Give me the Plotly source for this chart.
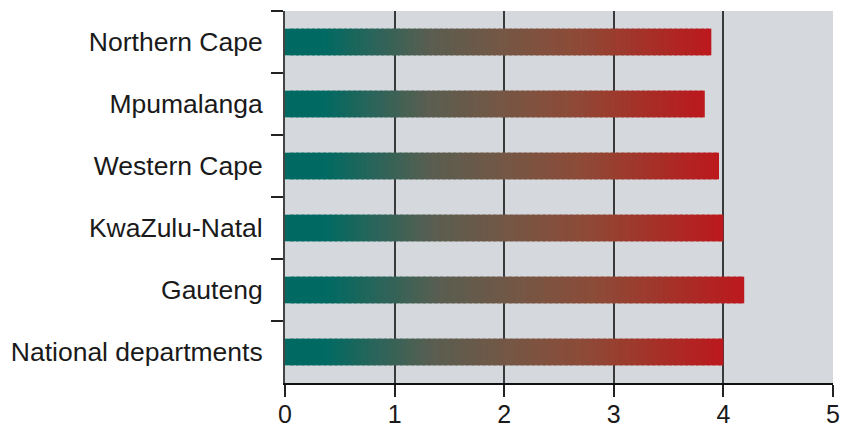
import numpy as np
import plotly.graph_objects as go

# Categories listed top to bottom, with their scores
categories = ["Northern Cape", "Mpumalanga", "Western Cape", "KwaZulu-Natal",
              "Gauteng", "National departments"]
values = [3.89, 3.83, 3.96, 4.00, 4.19, 4.00]
x_ticks = [0, 1, 2, 3, 4, 5]

# Colour ramp along each bar: teal -> olive grey -> brown -> red
stop_pos = [0.0, 0.09, 0.34, 0.52, 0.69, 1.0]
stop_rgb = np.array([
    [0, 106, 98],
    [0, 106, 98],
    [90, 94, 80],
    [118, 86, 68],
    [142, 74, 54],
    [188, 24, 28],
])

N_SEG = 80


def ramp(t):
    return [float(np.interp(t, stop_pos, stop_rgb[:, k])) for k in range(3)]


fig = go.Figure()
for cat, val in zip(categories, values):
    seg = val / N_SEG
    starts = [i * seg for i in range(N_SEG)]
    widths = [seg * 1.6 if i < N_SEG - 1 else seg for i in range(N_SEG)]
    cols = []
    for i in range(N_SEG):
        r, g, b = ramp((i + 0.5) / N_SEG)
        cols.append(f"rgb({r:.0f},{g:.0f},{b:.0f})")
    fig.add_trace(go.Bar(
        y=[cat] * N_SEG,
        x=widths,
        base=starts,
        orientation="h",
        width=0.43,
        marker=dict(color=cols, line=dict(width=0)),
        showlegend=False,
        hoverinfo="skip",
    ))

fig.update_layout(
    width=843, height=430,
    margin=dict(l=285, r=10, t=11, b=47),
    barmode="overlay",
    plot_bgcolor="#d5d9dd",
    paper_bgcolor="white",
    font=dict(family="Liberation Sans, Arial, sans-serif", size=26, color="#1a1a1a"),
)
fig.update_xaxes(
    range=[0, 5],
    tickvals=x_ticks,
    automargin=False,
    ticks="outside", ticklen=12, tickwidth=1.5, tickcolor="#222",
    showgrid=True, gridcolor="#3a3a3a", gridwidth=1.5,
    showline=True, linecolor="#111", linewidth=1.5,
    zeroline=False,
    ticklabelstandoff=-4,
    tickfont=dict(size=25),
)
fig.update_yaxes(
    categoryorder="array", categoryarray=categories,
    autorange="reversed",
    automargin=False,
    tickson="boundaries",
    ticks="outside", ticklen=12, tickwidth=1.5, tickcolor="#222",
    showgrid=False,
    showline=True, linecolor="#444", linewidth=2,
    ticklabelstandoff=15,
    tickfont=dict(size=26.5),
)

fig.write_html("out.html")
